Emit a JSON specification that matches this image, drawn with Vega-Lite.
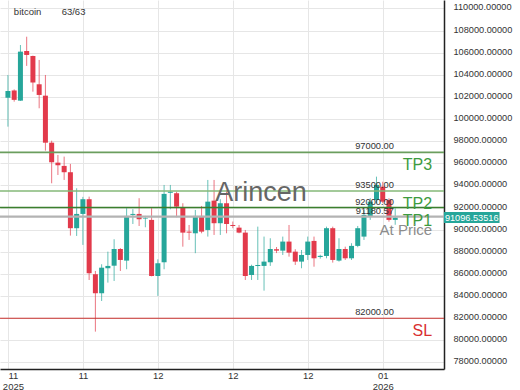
{
  "$schema": "https://vega.github.io/schema/vega-lite/v6.json",
  "width": 444,
  "height": 369,
  "autosize": {"type": "none"},
  "padding": {"left": 0, "top": 0, "right": 76, "bottom": 21},
  "background": "white",
  "config": {"view": {"stroke": null}, "font": "Liberation Sans", "axis": {"labelOverlap": false}},
  "datasets": {
    "candles": [
      {"i":0,"open":101940,"high":103990,"low":99320,"close":102540},
      {"i":1,"open":102590,"high":102690,"low":101580,"close":101740},
      {"i":2,"open":101670,"high":106700,"low":101640,"close":106100},
      {"i":3,"open":106160,"high":107450,"low":104810,"close":105800},
      {"i":4,"open":105710,"high":105740,"low":102480,"close":103300},
      {"i":5,"open":103150,"high":105350,"low":100980,"close":102185},
      {"i":6,"open":102120,"high":103990,"low":97150,"close":97870},
      {"i":7,"open":97870,"high":98050,"low":94200,"close":96100},
      {"i":8,"open":96065,"high":96760,"low":94950,"close":95830},
      {"i":9,"open":95770,"high":96610,"low":94500,"close":95200},
      {"i":10,"open":95200,"high":95950,"low":89470,"close":90140},
      {"i":11,"open":90140,"high":93750,"low":89440,"close":91430},
      {"i":12,"open":91430,"high":92970,"low":88630,"close":92760},
      {"i":13,"open":92760,"high":92990,"low":85460,"close":86070},
      {"i":14,"open":85980,"high":86275,"low":80790,"close":84260},
      {"i":15,"open":84260,"high":86880,"low":83560,"close":86570},
      {"i":16,"open":86520,"high":88020,"low":85220,"close":86730},
      {"i":17,"open":86750,"high":89140,"low":85370,"close":88260},
      {"i":18,"open":88260,"high":88340,"low":86275,"close":87270},
      {"i":19,"open":87210,"high":91950,"low":86430,"close":91250},
      {"i":20,"open":91340,"high":91860,"low":90520,"close":91430},
      {"i":21,"open":91430,"high":92850,"low":90340,"close":90950},
      {"i":22,"open":91010,"high":91250,"low":90225,"close":91060},
      {"i":23,"open":90890,"high":91950,"low":85790,"close":85820},
      {"i":24,"open":85820,"high":87330,"low":84020,"close":86970},
      {"i":25,"open":87060,"high":94050,"low":86430,"close":93240},
      {"i":26,"open":93340,"high":94050,"low":91850,"close":93440},
      {"i":27,"open":93300,"high":93440,"low":91130,"close":92090},
      {"i":28,"open":92030,"high":92395,"low":88470,"close":89740},
      {"i":29,"open":89830,"high":90430,"low":89080,"close":89740},
      {"i":30,"open":89680,"high":91790,"low":87880,"close":91250},
      {"i":31,"open":91250,"high":92150,"low":89680,"close":89830},
      {"i":32,"open":89980,"high":94500,"low":89380,"close":92540},
      {"i":33,"open":92630,"high":94500,"low":89530,"close":90590},
      {"i":34,"open":90590,"high":92760,"low":89530,"close":92395},
      {"i":35,"open":92395,"high":93600,"low":89680,"close":90520},
      {"i":36,"open":90430,"high":90740,"low":90140,"close":90340},
      {"i":37,"open":90190,"high":90430,"low":89680,"close":89740},
      {"i":38,"open":89740,"high":89980,"low":85460,"close":85820},
      {"i":39,"open":85910,"high":86840,"low":85460,"close":86730},
      {"i":40,"open":86730,"high":90280,"low":85460,"close":86820},
      {"i":41,"open":86730,"high":89380,"low":84495,"close":87120},
      {"i":42,"open":87060,"high":89230,"low":86730,"close":88260},
      {"i":43,"open":88240,"high":88440,"low":87890,"close":88110},
      {"i":44,"open":88110,"high":89380,"low":87720,"close":88930},
      {"i":45,"open":88930,"high":90430,"low":87570,"close":87930},
      {"i":46,"open":88020,"high":88240,"low":86820,"close":87120},
      {"i":47,"open":87120,"high":88170,"low":86520,"close":87720},
      {"i":48,"open":87720,"high":89380,"low":87270,"close":88930},
      {"i":49,"open":88990,"high":89380,"low":86660,"close":87420},
      {"i":50,"open":87540,"high":87740,"low":87390,"close":87640},
      {"i":51,"open":87630,"high":90280,"low":87420,"close":90140},
      {"i":52,"open":90140,"high":90280,"low":87030,"close":87270},
      {"i":53,"open":87210,"high":89230,"low":87120,"close":88260},
      {"i":54,"open":88260,"high":88470,"low":87270,"close":87420},
      {"i":55,"open":87420,"high":88780,"low":87270,"close":88540},
      {"i":56,"open":88540,"high":90340,"low":88420,"close":90140},
      {"i":57,"open":89380,"high":91790,"low":89080,"close":91340},
      {"i":58,"open":91180,"high":92850,"low":90890,"close":92540},
      {"i":59,"open":92690,"high":94800,"low":92395,"close":94050},
      {"i":60,"open":93900,"high":94340,"low":92395,"close":92540},
      {"i":61,"open":92690,"high":92850,"low":90730,"close":90890},
      {"i":62,"open":90890,"high":91940,"low":90450,"close":91096.53516}
    ],
    "levels": [
      {"name":"TP3","price":97000},
      {"name":"TP2","price":93500},
      {"name":"TP1","price":92000},
      {"name":"At Price","price":91180.57},
      {"name":"SL","price":82000}
    ],
    "last": [{"price":91096.53516,"label":"91096.53516"}]
  },
  "layer": [
    {
      "data": {"name": "candles"},
      "mark": {"type": "rule", "strokeWidth": 1, "opacity": 0.7},
      "encoding": {
        "x": {
          "field": "i", "type": "quantitative",
          "scale": {"domain": [-0.47, 69.01], "nice": false, "zero": false},
          "axis": {
            "orient": "bottom", "title": null,
            "values": [0, 12, 24, 36, 48, 60],
            "labelExpr": "datum.value == 0 ? ['11', '2025'] : datum.value == 12 ? '11' : datum.value == 60 ? ['01', '2026'] : '12'",
            "labelFontSize": 9.5, "labelColor": "#333", "labelPadding": 1,
            "labelLineHeight": 11,
            "labelOffset": {"condition": {"test": "datum.value == 0", "value": 5}, "value": 0},
            "labelFlush": false, "labelOverlap": false,
            "ticks": false, "domainColor": "#222", "domainWidth": 1.5,
            "grid": true, "gridColor": "#e6e6e6"
          }
        },
        "y": {
          "field": "low", "type": "quantitative",
          "scale": {"domain": [77412, 110768], "nice": false, "zero": false},
          "axis": {
            "orient": "right", "title": null,
            "tickCount": 17,
            "format": ".5f", "labelFontSize": 9.2, "labelColor": "#333",
            "labelPadding": 9, "labelOffset": -1.5, "labelOverlap": false, "labelBound": false,
            "ticks": false, "domainColor": "#222", "domainWidth": 1.5,
            "grid": true, "gridColor": "#e6e6e6"
          }
        },
        "y2": {"field": "high"},
        "color": {"condition": {"test": "datum.close >= datum.open", "value": "#26a69a"}, "value": "#e23a4b"}
      }
    },
    {
      "data": {"name": "candles"},
      "mark": {"type": "bar", "size": 5},
      "encoding": {
        "x": {"field": "i", "type": "quantitative"},
        "y": {"field": "open", "type": "quantitative"},
        "y2": {"field": "close"},
        "color": {"condition": {"test": "datum.close >= datum.open", "value": "#26a69a"}, "value": "#e23a4b"}
      }
    },
    {
      "data": {"name": "levels"},
      "mark": {"type": "rule"},
      "encoding": {
        "y": {"field": "price", "type": "quantitative"},
        "color": {
          "condition": [
            {"test": "datum.name == 'TP3'", "value": "#6b9e5e"},
            {"test": "datum.name == 'TP2'", "value": "#84b879"},
            {"test": "datum.name == 'TP1'", "value": "#3b7f2e"},
            {"test": "datum.name == 'At Price'", "value": "#b3b3b3"}
          ],
          "value": "#c9302c"
        },
        "strokeWidth": {
          "condition": [
            {"test": "datum.name == 'At Price'", "value": 2.2},
            {"test": "datum.name == 'TP3'", "value": 1.8},
            {"test": "datum.name == 'SL'", "value": 1.2}
          ],
          "value": 1.5
        }
      }
    },
    {
      "data": {"name": "levels"},
      "mark": {"type": "text", "align": "right", "baseline": "alphabetic", "dy": -3, "fontSize": 9.3, "color": "#333"},
      "encoding": {
        "x": {"datum": 61.8, "type": "quantitative"},
        "y": {"field": "price", "type": "quantitative"},
        "text": {"field": "price", "type": "quantitative", "format": ".2f"}
      }
    },
    {
      "data": {"name": "levels"},
      "mark": {"type": "text", "align": "right", "baseline": "middle", "dy": 13},
      "encoding": {
        "x": {"datum": 67.9, "type": "quantitative"},
        "y": {"field": "price", "type": "quantitative"},
        "text": {"field": "name"},
        "size": {"condition": {"test": "datum.name == 'At Price'", "value": 15}, "value": 16},
        "color": {
          "condition": [
            {"test": "datum.name == 'At Price'", "value": "#8c8c8c"},
            {"test": "datum.name == 'SL'", "value": "#d9302f"}
          ],
          "value": "#3d9b40"
        }
      }
    },
    {
      "data": {"values": [{"t": "Arincen"}]},
      "mark": {"type": "text", "align": "center", "baseline": "middle", "fontSize": 27, "color": "#666666"},
      "encoding": {
        "x": {"datum": 40.5, "type": "quantitative"},
        "y": {"datum": 93322, "type": "quantitative"},
        "text": {"field": "t"}
      }
    },
    {
      "data": {"values": [{"t": "bitcoin", "pos": 0.95}, {"t": "63/63", "pos": 8.6}]},
      "mark": {"type": "text", "align": "left", "baseline": "middle", "fontSize": 9.5, "color": "#333"},
      "encoding": {
        "x": {"field": "pos", "type": "quantitative"},
        "y": {"datum": 109680, "type": "quantitative"},
        "text": {"field": "t"}
      }
    },
    {
      "data": {"name": "last"},
      "mark": {"type": "rect", "color": "#26a69a"},
      "encoding": {
        "x": {"datum": 69.8, "type": "quantitative"},
        "x2": {"datum": 78.7},
        "y": {"datum": 90600, "type": "quantitative"},
        "y2": {"datum": 91594}
      }
    },
    {
      "data": {"name": "last"},
      "mark": {"type": "text", "align": "center", "baseline": "middle", "fontSize": 9.2, "color": "white"},
      "encoding": {
        "x": {"datum": 74.25, "type": "quantitative"},
        "y": {"field": "price", "type": "quantitative"},
        "text": {"field": "label"}
      }
    }
  ]
}
